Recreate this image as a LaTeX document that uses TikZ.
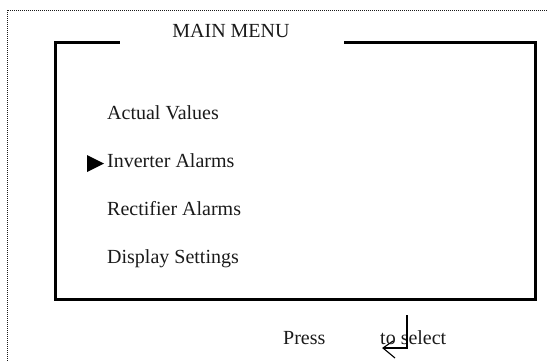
\documentclass[tikz,border=0pt]{standalone}
\usepackage{fontspec}
\setmainfont{Liberation Serif}
\usepackage{tikz}
\usetikzlibrary{positioning}
\definecolor{darkgray}{HTML}{1A1A1A}
\tikzset {
  % menu entries and captions
  item/.style = {anchor=base west, inner sep=0pt, text=darkgray, font=\fontsize{20}{24}\selectfont},
  title/.style = {anchor=base, inner sep=0pt, text=darkgray, font=\fontsize{20}{24}\selectfont},
  % screen frame
  screen/.style = {line width=3pt, line join=miter},
  % outer dotted border
  border/.style = {line width=1pt, dash pattern=on 1pt off 1pt, darkgray},
  % enter key symbol
  enter/.style = {line width=1.1pt},
}
\begin{document}
\begin{tikzpicture}[x=1pt, y=-1pt]
      \useasboundingbox (0,0) rectangle (547,360);
      \begin{scope}
        \clip (0,0) rectangle (547,360);
        \draw[border] (7,10) rectangle (580,400);
      \end{scope}

      \node[title] (head) at (231,37) {MAIN MENU};

      \draw[screen] (119.6,42.7) -- (55,42.7) -- (55,299) -- (535.7,299) -- (535.7,42.7) -- (343.6,42.7);

      \node[item] (actual) at (107,119.3) {Actual Values};
      \node[item] (inverter) at (107,167.7) {Inverter Alarms};
      \node[item] (rectifier) at (107,215.7) {Rectifier Alarms};
      \node[item] (display) at (107,263.3) {Display Settings};

      % cursor
      \fill[black] (87,155) -- (87,172) -- (104,163.5) -- cycle;

      \node[item] (press) at (283,344) {Press};
      \node[item] (select) at (380,344) {to select};

      % enter key
      \coordinate (k1) at (407,315);
      \coordinate (k2) at (407,348);
      \coordinate (k3) at (383,348);
      \draw[enter] (k1) -- (k2) -- (k3);
      \draw[enter] (393,341) -- (k3) -- (395,358);
    \end{tikzpicture}
\end{document}
